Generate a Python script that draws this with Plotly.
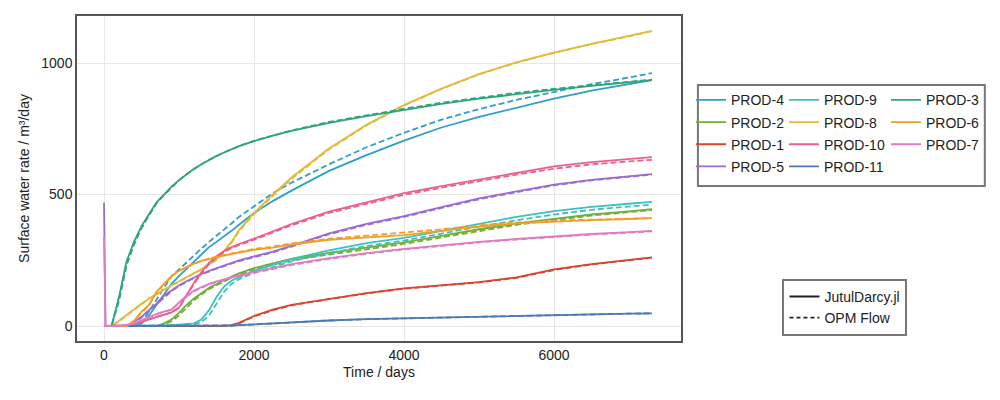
import plotly.graph_objects as go

# time axis shared by all wells (days)
t_days = [0, 20, 100, 200, 300, 400, 500, 600, 700, 800, 900, 1000, 1100, 1200, 1300, 1400,
          1500, 1600, 1700, 1800, 2000, 2250, 2500, 3000, 3500, 4000, 4500, 5000, 5500, 6000,
          6500, 7000, 7305]

# surface water rate, m3/day, JutulDarcy.jl (jutul_*) and OPM Flow (opm_*)
jutul_prod4 = [0, 0, 0, 0, 0, 0, 10, 40, 80, 120, 160, 190, 218, 245, 272, 300,
               320, 340, 362, 385, 430, 475, 515, 590, 650, 705, 755, 795, 830, 865, 895, 920, 935]
opm_prod4 = [0, 0, 0, 0, 0, 0, 15, 55, 100, 145, 190, 215, 243, 270, 295, 320,
             343, 365, 390, 415, 455, 505, 545, 615, 680, 735, 785, 825, 860, 890, 920, 945, 962]

jutul_prod2 = [0, 0, 0, 0, 0, 0, 0, 0, 0, 10, 25, 50, 80, 105, 125, 145,
               160, 175, 188, 200, 220, 238, 255, 278, 298, 318, 343, 368, 390, 408, 424, 436, 444]
opm_prod2 = [0, 0, 0, 0, 0, 0, 0, 0, 0, 5, 18, 40, 70, 98, 120, 140,
             155, 170, 183, 195, 215, 233, 250, 272, 292, 312, 337, 362, 385, 403, 420, 433, 441]

jutul_prod1 = [0, 0, 0, 0, 0, 0, 0, 0, 0, 0, 0, 0, 0, 0, 0, 0,
               0, 0, 3, 12, 38, 62, 80, 103, 125, 143, 155, 167, 185, 215, 235, 250, 261]
opm_prod1 = [0, 0, 0, 0, 0, 0, 0, 0, 0, 0, 0, 0, 0, 0, 0, 0,
             0, 0, 2, 10, 36, 60, 79, 102, 124, 142, 154, 166, 183, 213, 234, 249, 260]

jutul_prod5 = [470, 0, 0, 0, 0, 15, 35, 60, 85, 115, 135, 155, 170, 185, 198, 210,
               220, 230, 240, 250, 265, 283, 305, 352, 388, 418, 452, 485, 512, 538, 556, 570, 578]
opm_prod5 = [0, 0, 0, 0, 0, 12, 32, 57, 82, 110, 132, 152, 168, 183, 196, 208,
             218, 228, 238, 247, 262, 280, 302, 349, 385, 415, 449, 482, 509, 535, 554, 568, 576]

jutul_prod9 = [0, 0, 0, 0, 0, 0, 0, 0, 0, 2, 3, 5, 7, 10, 25, 60,
               110, 150, 172, 186, 210, 232, 255, 288, 315, 335, 362, 390, 415, 437, 453, 465, 472]
opm_prod9 = [0, 0, 0, 0, 0, 0, 0, 0, 0, 1, 2, 3, 5, 7, 15, 40,
             85, 130, 160, 178, 202, 225, 246, 278, 304, 325, 352, 378, 402, 424, 442, 455, 462]

jutul_prod8 = [0, 0, 0, 20, 42, 65, 85, 105, 122, 140, 155, 170, 185, 200, 217, 235,
               255, 285, 320, 365, 430, 500, 565, 675, 765, 840, 903, 958, 1003, 1040, 1073, 1103, 1122]
opm_prod8 = [0, 0, 0, 18, 40, 63, 83, 103, 120, 138, 153, 168, 183, 198, 215, 233,
             252, 280, 316, 360, 425, 495, 560, 672, 763, 839, 902, 957, 1002, 1039, 1072, 1102, 1121]

jutul_prod10 = [0, 0, 0, 0, 2, 8, 15, 25, 35, 43, 52, 70, 120, 165, 205, 240,
                265, 285, 300, 312, 332, 360, 388, 435, 470, 505, 532, 557, 583, 607, 623, 635, 642]
opm_prod10 = [0, 0, 0, 0, 2, 8, 15, 25, 35, 43, 52, 68, 115, 160, 200, 236,
              261, 281, 296, 308, 328, 355, 383, 430, 465, 499, 526, 551, 576, 598, 615, 626, 632]

jutul_prod11 = [0, 0, 0, 0, 0, 0, 0, 0, 0, 0, 0, 0, 0, 0, 0, 0,
                0, 1, 2, 3, 6, 10, 14, 21, 26, 29, 33, 37, 40, 43, 45, 47, 48]
opm_prod11 = [0, 0, 0, 0, 0, 0, 0, 0, 0, 0, 0, 0, 0, 0, 0, 0,
              0, 1, 2, 3, 6, 10, 14, 21, 26, 29, 33, 37, 40, 43, 45, 47, 48]

jutul_prod3 = [0, 0, 0, 110, 245, 320, 380, 425, 470, 500, 530, 555, 578, 598, 615, 632,
               647, 660, 672, 684, 703, 724, 742, 773, 798, 822, 845, 865, 882, 898, 913, 926, 935]
opm_prod3 = [0, 0, 0, 95, 230, 310, 372, 420, 467, 498, 528, 554, 577, 597, 615, 632,
             647, 660, 672, 684, 704, 725, 744, 776, 802, 826, 849, 869, 887, 902, 916, 928, 937]

jutul_prod6 = [0, 0, 0, 0, 0, 20, 55, 80, 130, 160, 190, 210, 225, 237, 248, 256,
               262, 268, 274, 280, 290, 298, 310, 328, 338, 346, 362, 378, 390, 397, 403, 407, 410]
opm_prod6 = [0, 0, 0, 0, 0, 18, 52, 78, 127, 158, 188, 209, 224, 237, 248, 257,
             264, 270, 276, 283, 293, 302, 314, 332, 344, 354, 368, 383, 394, 401, 405, 408, 410]

jutul_prod7 = [340, 0, 0, 0, 3, 10, 22, 35, 45, 55, 62, 90, 115, 135, 148, 160,
               170, 178, 186, 193, 205, 220, 235, 258, 277, 293, 307, 320, 331, 341, 350, 357, 362]
opm_prod7 = [0, 0, 0, 0, 3, 10, 22, 35, 45, 55, 62, 87, 112, 132, 146, 158,
             168, 176, 184, 191, 202, 217, 232, 255, 275, 291, 305, 318, 329, 339, 348, 355, 360]

wells = ["PROD-4", "PROD-2", "PROD-1", "PROD-5", "PROD-9", "PROD-8",
         "PROD-10", "PROD-11", "PROD-3", "PROD-6", "PROD-7"]
colors = ["#2f9fc8", "#74ad3a", "#d9452f", "#9b6bd1", "#3cc1bd", "#e1b93b",
          "#ee5e8d", "#4b7bb4", "#2ea57a", "#f29e2a", "#e07bc6"]
jutul = [jutul_prod4, jutul_prod2, jutul_prod1, jutul_prod5, jutul_prod9, jutul_prod8,
         jutul_prod10, jutul_prod11, jutul_prod3, jutul_prod6, jutul_prod7]
opm = [opm_prod4, opm_prod2, opm_prod1, opm_prod5, opm_prod9, opm_prod8,
       opm_prod10, opm_prod11, opm_prod3, opm_prod6, opm_prod7]
# legend column of each well (3 columns in one box)
legend_col = ["legend", "legend", "legend", "legend", "legend2", "legend2",
              "legend2", "legend2", "legend3", "legend3", "legend3"]

fig = go.Figure()
for name, c, yj, yo, leg in zip(wells, colors, jutul, opm, legend_col):
    fig.add_trace(go.Scatter(x=t_days, y=yj, mode="lines", name=name, legend=leg,
                             legendgroup=name, line=dict(color=c, width=1.8)))
    fig.add_trace(go.Scatter(x=t_days, y=yo, mode="lines", name=name, legend=leg,
                             legendgroup=name, showlegend=False,
                             line=dict(color=c, width=1.8, dash="6px,3px")))

# simulator legend
fig.add_trace(go.Scatter(x=[None], y=[None], mode="lines", name="JutulDarcy.jl",
                         legend="legend4", line=dict(color="#222", width=1.8)))
fig.add_trace(go.Scatter(x=[None], y=[None], mode="lines", name="OPM Flow",
                         legend="legend4", line=dict(color="#222", width=1.8, dash="4px,3px")))

font = dict(family="Liberation Sans, Arial, sans-serif", size=14, color="#222")
col_leg = dict(bgcolor="rgba(0,0,0,0)", borderwidth=0, font=font,
               xanchor="left", yanchor="top", tracegroupgap=1)

# page body adds 8px, so the figure is a bit smaller than the window
fig.update_layout(
    width=992, height=392,
    margin=dict(l=69, r=319, t=8, b=59, autoexpand=False),
    paper_bgcolor="white", plot_bgcolor="white",
    font=font,
    legend=dict(col_leg, x=1.0166, y=0.79),
    legend2=dict(col_leg, x=1.1705, y=0.79),
    legend3=dict(col_leg, x=1.3394, y=0.79),
    legend4=dict(font=font, bgcolor="white", bordercolor="#777", borderwidth=2,
                 xanchor="left", yanchor="top", x=1.168, y=0.191),
    shapes=[dict(type="rect", xref="paper", yref="paper", x0=1.028, x1=1.503,
                 y0=0.477, y1=0.788, line=dict(color="#777", width=2))],
)
fig.update_xaxes(range=[-360, 7693], tickvals=[0, 2000, 4000, 6000],
                 title=dict(text="Time / days", font=font, standoff=6),
                 showgrid=True, gridcolor="#e6e6e6", gridwidth=1, zeroline=False,
                 showline=True, mirror=True, linecolor="#555", linewidth=1.5,
                 ticks="", tickfont=font)
fig.update_yaxes(range=[-57, 1179], tickvals=[0, 500, 1000],
                 title=dict(text="Surface water rate / m³/day", font=font, standoff=8),
                 showgrid=True, gridcolor="#e6e6e6", gridwidth=1, zeroline=False,
                 showline=True, mirror=True, linecolor="#555", linewidth=1.5,
                 ticks="", tickfont=font)

fig.write_html("out.html")
